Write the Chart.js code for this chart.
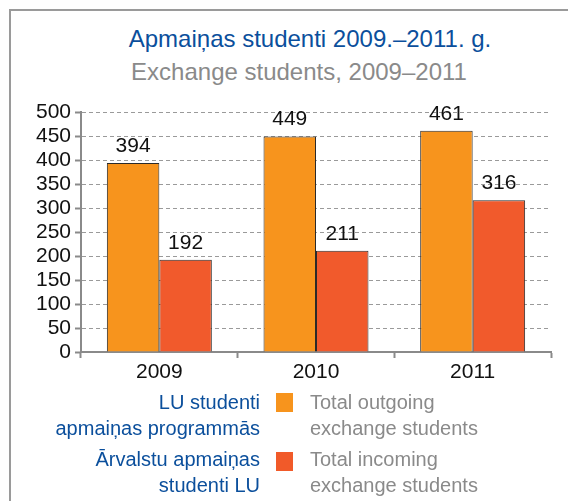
<!DOCTYPE html>
<html>
<head>
<meta charset="utf-8">
<script src="https://cdn.jsdelivr.net/npm/chart.js@4"></script>
<style>
  body { margin: 0; background: #fff; font-family: "Liberation Sans", Arial, sans-serif; }
  #wrap { position: relative; width: 568px; height: 501px; overflow: hidden; }
  #frame { position: absolute; left: 9px; top: 9px; right: -5px; bottom: -5px; border-top: 2px solid #9a9a9a; border-left: 2px solid #9a9a9a; }
  #chart-box { position: absolute; left: 0; top: 0; width: 568px; height: 501px; }
  .t { position: absolute; white-space: nowrap; }
  #title { left: 0; width: 568px; top: 25px; text-align: center; font-size: 24px; color: #0b4f9c; padding-left: 52px; box-sizing: border-box; }
  #subtitle { left: 0; width: 568px; top: 58px; text-align: center; font-size: 24px; color: #8a8a8a; padding-left: 30px; box-sizing: border-box; }
  .lv { right: 308px; text-align: right; font-size: 20px; color: #0b4f9c; line-height: 26px; }
  .en { left: 310px; font-size: 20px; color: #8a8a8a; line-height: 26px; }
  .sw { position: absolute; left: 276px; width: 17px; height: 19px; }
</style>
</head>
<body>
<div id="wrap">
  <div id="frame"></div>
  <div id="title" class="t">Apmaiņas studenti 2009.–2011. g.</div>
  <div id="subtitle" class="t">Exchange students, 2009–2011</div>
  <div id="chart-box"><canvas id="chart"></canvas></div>
  <div class="t lv" style="top:389px">LU studenti<br>apmaiņas programmās</div>
  <div class="sw" style="top:393px;background:#f7941d"></div>
  <div class="t en" style="top:389px">Total outgoing<br>exchange students</div>
  <div class="t lv" style="top:446px">Ārvalstu apmaiņas<br>studenti LU</div>
  <div class="sw" style="top:452px;background:#f15a29"></div>
  <div class="t en" style="top:446px">Total incoming<br>exchange students</div>
</div>
<script>
// Data
const years = ["2009", "2010", "2011"];
const outgoing = [394, 449, 461];
const incoming = [192, 211, 316];
const seriesNames = ["Total outgoing exchange students", "Total incoming exchange students"];
const yTicks = [0, 50, 100, 150, 200, 250, 300, 350, 400, 450, 500];

const FONT = "'Liberation Sans', Arial, sans-serif";

// Value labels above each bar
const valueLabels = {
    id: "valueLabels",
    afterDatasetsDraw(chart) {
        const ctx = chart.ctx;
        ctx.save();
        ctx.font = "21px " + FONT;
        ctx.fillStyle = "#111";
        ctx.textAlign = "center";
        ctx.textBaseline = "alphabetic";
        chart.data.datasets.forEach((ds, i) => {
            chart.getDatasetMeta(i).data.forEach((bar, j) => {
                ctx.fillText(ds.data[j], bar.x, bar.y - 11);
            });
        });
        ctx.restore();
    }
};

new Chart(document.getElementById("chart"), {
    type: "bar",
    data: {
        labels: years,
        datasets: [{
            label: seriesNames[0],
            data: outgoing,
            backgroundColor: "#f7941d",
            borderColor: "#2a2a2a",
            borderWidth: 1,
        }, {
            label: seriesNames[1],
            data: incoming,
            backgroundColor: "#f15a2c",
            borderColor: "#2a2a2a",
            borderWidth: 1,
        }]
    },
    options: {
        responsive: true,
        maintainAspectRatio: false,
        animation: false,
        layout: { padding: { left: 0, right: 17, top: 112, bottom: 109 } },
        datasets: { bar: { categoryPercentage: 0.67, barPercentage: 1 } },
        plugins: {
            legend: { display: false },
            tooltip: { enabled: false },
        },
        scales: {
            x: {
                afterFit: (s) => { s.height = 40; },
                grid: { drawOnChartArea: false, drawTicks: true, tickLength: 6, tickColor: "#8a8a8a", tickWidth: 2, offset: true },
                border: { color: "#8a8a8a", width: 2 },
                ticks: { color: "#111", font: { family: FONT, size: 21 }, padding: 2 },
            },
            y: {
                min: 0,
                max: 500,
                afterFit: (s) => { s.width = 81; },
                afterBuildTicks: (s) => { s.ticks = yTicks.map(v => ({ value: v })); },
                grid: { color: "#9a9a9a", lineWidth: 1, tickColor: "#8a8a8a", tickWidth: 2, tickLength: 6, tickBorderDash: [] },
                border: { color: "#8a8a8a", width: 2, dash: [4, 3] },
                ticks: { color: "#111", font: { family: FONT, size: 21 }, padding: 4, autoSkip: false },
            }
        }
    },
    plugins: [valueLabels]
});
</script>
</body>
</html>
